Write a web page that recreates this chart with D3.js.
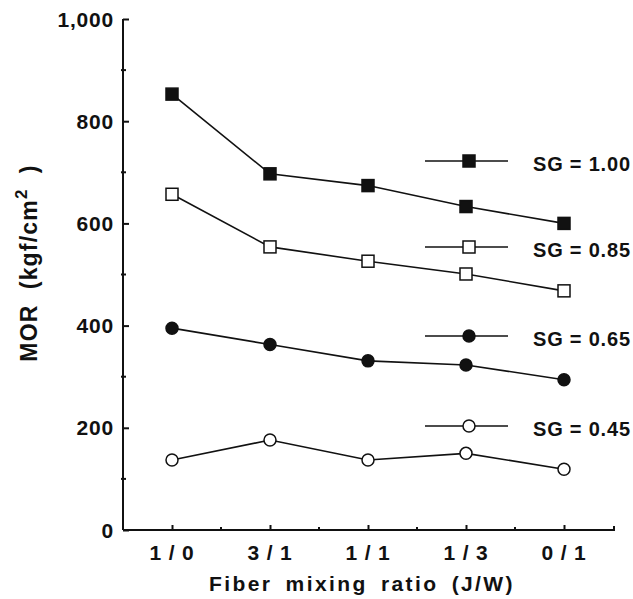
<!DOCTYPE html>
<html>
<head>
<meta charset="utf-8">
<script src="https://cdn.jsdelivr.net/npm/d3@7"></script>
<style>
  body { margin: 0; background: #fff; }
  text { font-family: "Liberation Sans", Arial, sans-serif; font-weight: bold; fill: #111; }
</style>
</head>
<body>
<div id="chart-area"></div>
<script>
// data
var categories = ["1 / 0", "3 / 1", "1 / 1", "1 / 3", "0 / 1"];
var sg100 = [853, 697, 674, 633, 600];
var sg085 = [657, 554, 526, 501, 468];
var sg065 = [395, 363, 331, 323, 294];
var sg045 = [137, 176, 137, 150, 119];
var seriesNames = ["SG = 1.00", "SG = 0.85", "SG = 0.65", "SG = 0.45"];
var yTicks = [0, 200, 400, 600, 800, 1000];
var yMinorTicks = [100, 300, 500, 700, 900];

var width = 633, height = 599;
var plot = {left: 123, right: 613, top: 19, bottom: 530};

var svg = d3.select("#chart-area")
    .append("svg")
        .attr("width", width)
        .attr("height", height);

var x = d3.scalePoint()
    .domain(categories)
    .range([plot.left, plot.right])
    .padding(0.5);

var y = d3.scaleLinear()
    .domain([0, 1000])
    .range([plot.bottom, plot.top]);

// y axis
var yAxisCall = d3.axisRight(y)
    .tickValues(yTicks)
    .tickSize(6)
    .tickFormat("");
var yAxisG = svg.append("g")
    .attr("transform", "translate(" + plot.left + ",0)")
    .call(yAxisCall);
yAxisG.select(".domain").attr("d", "M0," + y(1000) + "V" + y(0));

yAxisG.selectAll(".minor").data(yMinorTicks).enter()
    .append("line")
        .attr("class", "minor")
        .attr("x1", -2).attr("x2", 3)
        .attr("y1", function(d){ return y(d); })
        .attr("y2", function(d){ return y(d); });

svg.selectAll(".ylab").data(yTicks).enter()
    .append("text")
        .attr("class", "ylab")
        .attr("x", plot.left - 9)
        .attr("y", function(d){ return y(d) + 7.5; })
        .attr("text-anchor", "end")
        .attr("font-size", "21px")
        .attr("letter-spacing", "0.8px")
        .text(function(d){ return d3.format(",")(d); });

// x axis
var xAxisCall = d3.axisTop(x)
    .tickSize(5)
    .tickFormat("");
var xAxisG = svg.append("g")
    .attr("transform", "translate(0," + plot.bottom + ")")
    .call(xAxisCall);
xAxisG.select(".domain").attr("d", "M" + plot.left + ",0H" + (plot.right + 1) + "V-4");

var step = x.step();
xAxisG.selectAll(".minor").data(categories.slice(0, -1)).enter()
    .append("line")
        .attr("class", "minor")
        .attr("x1", function(d){ return x(d) + step / 2; })
        .attr("x2", function(d){ return x(d) + step / 2; })
        .attr("y1", 0).attr("y2", -3);

svg.selectAll("path.domain, .tick line, line.minor")
    .attr("stroke", "#111")
    .attr("stroke-width", 2)
    .attr("fill", "none");

svg.selectAll(".xlab").data(categories).enter()
    .append("text")
        .attr("class", "xlab")
        .attr("x", function(d){ return x(d); })
        .attr("y", 560)
        .attr("text-anchor", "middle")
        .attr("font-size", "21px")
        .attr("letter-spacing", "0.8px")
        .text(function(d){ return d; });

// axis titles
svg.append("text")
    .attr("x", 362)
    .attr("y", 591)
    .attr("text-anchor", "middle")
    .attr("font-size", "21px")
    .attr("letter-spacing", "2.4px")
    .attr("word-spacing", "5px")
    .text("Fiber mixing ratio (J/W)");

var yLabel = svg.append("text")
    .attr("transform", "translate(37,263) rotate(-90)")
    .attr("text-anchor", "middle")
    .attr("font-size", "23px")
    .attr("letter-spacing", "1.2px")
    .style("white-space", "pre");
yLabel.append("tspan").text("MOR  (kgf/cm");
yLabel.append("tspan").attr("dy", -10).attr("font-size", "17px").text("2");
yLabel.append("tspan").attr("dy", 10).text("  )");

// series
var series = [
    {name: seriesNames[0], values: sg100, shape: "square", fill: "#111", ly: 161},
    {name: seriesNames[1], values: sg085, shape: "square", fill: "#fff", ly: 247},
    {name: seriesNames[2], values: sg065, shape: "circle", fill: "#111", ly: 336},
    {name: seriesNames[3], values: sg045, shape: "circle", fill: "#fff", ly: 426}
];

var line = d3.line()
    .x(function(d, i){ return x(categories[i]); })
    .y(function(d){ return y(d); });

function drawMarker(g, shape, fill, cx, cy) {
    if (shape === "square") {
        g.append("rect")
            .attr("x", cx - 6).attr("y", cy - 6)
            .attr("width", 12).attr("height", 12)
            .attr("fill", fill)
            .attr("stroke", "#111")
            .attr("stroke-width", 1.5);
    } else {
        g.append("circle")
            .attr("cx", cx).attr("cy", cy)
            .attr("r", 6)
            .attr("fill", fill)
            .attr("stroke", "#111")
            .attr("stroke-width", 1.5);
    }
}

series.forEach(function(s){
    var g = svg.append("g");
    g.append("path")
        .attr("d", line(s.values))
        .attr("fill", "none")
        .attr("stroke", "#111")
        .attr("stroke-width", 1.6);
    s.values.forEach(function(v, i){
        drawMarker(g, s.shape, s.fill, x(categories[i]), y(v));
    });

    // legend entry
    g.append("line")
        .attr("x1", 425).attr("x2", 508)
        .attr("y1", s.ly).attr("y2", s.ly)
        .attr("stroke", "#111")
        .attr("stroke-width", 1.6);
    drawMarker(g, s.shape, s.fill, 469, s.ly);
    g.append("text")
        .attr("x", 533)
        .attr("y", s.ly + 10)
        .attr("font-size", "20px")
        .attr("letter-spacing", "0.8px")
        .text(s.name);
});
</script>
</body>
</html>
